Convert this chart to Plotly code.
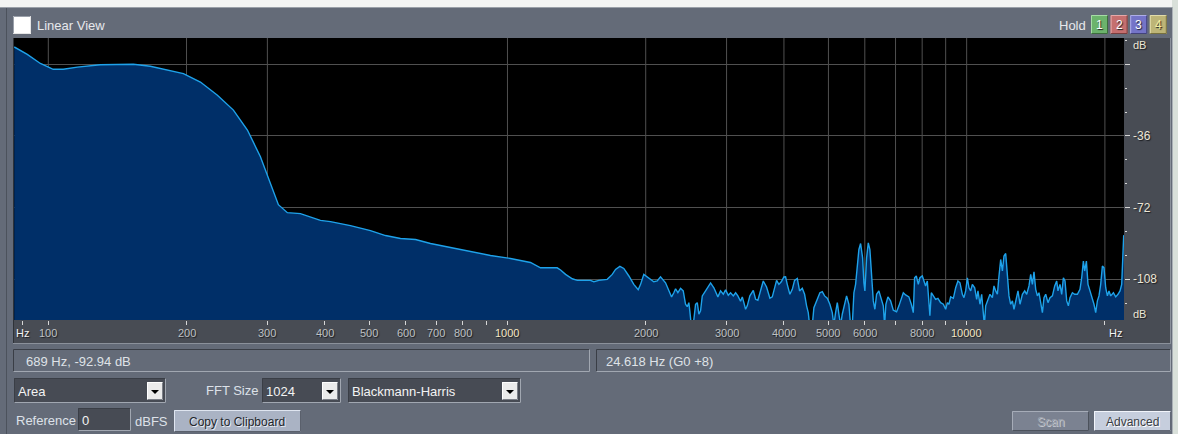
import math
import plotly.graph_objects as go

W, H = 1178, 434
FONT = "Liberation Sans, Arial, sans-serif"

# ---- spectrum (frequency in Hz, level in dB) ----
FREQ_HZ = [
    84.3, 90.0, 96.1, 102.5, 107.8, 115.7, 129.8, 153.2, 166.8, 181.6, 196.9, 214.4,
    233.5, 253.0, 271.4, 289.7, 304.6, 317.0, 331.6, 354.0, 391.4, 411.6, 454.9, 503.0,
    542.4, 584.8, 630.5, 679.7, 751.3, 830.7, 918.2, 1015, 1122,
    1180, 1283, 1305, 1338, 1384, 1419, 1516, 1542, 1581, 1649, 1691, 1719, 1757, 1792,
    1838, 1884, 1926, 1949, 1981, 2032, 2083, 2119, 2154, 2209, 2246, 2277, 2303, 2323,
    2350, 2382, 2414, 2442, 2463, 2483, 2495, 2513, 2538, 2568, 2590, 2611, 2633, 2656,
    2700, 2769, 2815, 2872, 2911, 2951, 2985, 3026, 3061, 3103, 3139, 3175, 3218,
    3246, 3272, 3300, 3328, 3372, 3430, 3470, 3510, 3558, 3606, 3666, 3728, 3773, 3816,
    3855, 3900, 3947, 3999, 4033, 4067, 4121, 4171, 4219, 4277, 4326, 4385, 4436, 4481,
    4519, 4549, 4611, 4648, 4711, 4790, 4848, 4904, 4971, 5036, 5097, 5138, 5182, 5227,
    5269, 5314, 5359, 5422, 5476, 5540, 5587, 5635, 5681, 5729, 5778, 5825, 5875, 5934,
    5973, 6003, 6054, 6106, 6155, 6208, 6261, 6311, 6365, 6439, 6517, 6583, 6626, 6669,
    6737, 6828, 6922, 7037, 7119, 7205, 7278, 7362, 7485, 7576, 7652, 7702, 7768, 7846,
    7910, 8005, 8070, 8139, 8209, 8275, 8316, 8375,
    8459, 8557, 8657, 8775, 8895, 9000, 9077, 9150, 9228, 9354, 9463, 9572, 9669, 9786,
    9865, 9950, 10035, 10116, 10203, 10290, 10410, 10514, 10583, 10690, 10781, 10873,
    10928, 11000, 11094, 11240, 11376, 11468, 11566, 11665, 11759, 11860, 11962, 12058,
    12161, 12265, 12364, 12470, 12577, 12678, 12786, 12935, 13065, 13223, 13377, 13512,
    13669, 13786, 13904, 14016, 14136, 14257, 14372, 14495, 14619, 14737, 14863, 15035,
    15187, 15371, 15549, 15706, 15808, 15968, 16104, 16242, 16373, 16513, 16654, 16788,
    16991, 17188, 17423, 17651, 17802, 17955, 18072, 18227, 18374, 18559, 18784, 18935,
    19097, 19260, 19416, 19582, 19750, 19909, 20079, 20251, 20414, 20589, 20870, 21112,
    21357, 21573, 21758, 21867, 21977, 22088,
]
LEVEL_DB = [
    8.7, 5.0, 0.4, -2.5, -2.5, -1.4, -0.2, 0.0, -1.0, -2.7, -4.7, -8.9,
    -15.5, -23.0, -33.0, -46.4, -59.5, -70.5, -74.5, -75.0, -78.4, -79.0, -81.0, -83.5,
    -86.0, -87.5, -88.0, -90.0, -92.0, -94.0, -96.0, -97.5, -99.5,
    -102.2, -102.2, -103.3, -105.5, -107.7, -108.5, -108.5, -109.2, -108.5, -108.0, -105.5, -103.0, -101.5, -102.5,
    -106.3, -110.5, -113.2, -110.5, -105.5, -107.2, -109.2, -108.8, -106.7, -109.7, -113.8, -116.8, -114.7, -112.7,
    -114.7, -112.5, -113.8, -120.5, -121.7, -119.7, -123.8, -131.0, -131.0, -120.5, -119.7, -125.5, -123.8, -116.3,
    -113.8, -109.8, -112.2, -116.8, -113.8, -115.5, -113.3, -116.0, -114.7, -116.3, -114.7, -116.3, -119.0,
    -116.8, -119.7, -123.0, -121.3, -116.3, -113.5, -118.0, -118.5, -113.0, -108.8, -111.8, -117.5, -116.8, -112.2,
    -108.5, -110.5, -109.2, -106.8, -106.7, -110.5, -115.5, -113.0, -108.5, -107.5, -113.8, -112.5, -115.5, -121.3,
    -124.7, -131.0, -131.0, -122.2, -118.8, -114.7, -114.2, -116.3, -117.5, -120.5, -124.7, -131.0, -124.7, -119.7,
    -125.5, -131.0, -125.5, -119.7, -116.3, -120.5, -131.0, -131.0, -114.7, -110.5, -102.2, -93.0, -90.0, -97.2,
    -109.7, -113.8, -97.2, -89.7, -93.0, -107.2, -118.8, -123.0, -115.5, -113.8, -118.0, -121.3, -131.0, -120.5,
    -116.8, -118.8, -123.5, -124.3, -121.3, -117.2, -114.7, -115.8, -116.8, -120.5, -124.7, -107.2, -106.3, -110.5,
    -107.2, -106.3, -108.8, -111.3, -108.8, -120.5, -126.3, -114.7,
    -116.3, -118.0, -117.5, -119.7, -120.5, -123.0, -119.7, -120.5, -116.8, -117.5, -112.2, -108.8, -109.7, -115.5,
    -117.2, -113.8, -107.2, -112.2, -113.8, -110.5, -112.2, -118.0, -113.8, -120.5, -115.5, -124.7,
    -131.0, -121.3, -119.2, -115.5, -117.2, -111.3, -113.8, -115.5, -106.3, -98.0, -103.8, -96.3,
    -95.0, -107.2, -116.3, -120.5, -118.8, -123.0, -118.8, -113.8, -120.5, -115.5, -113.8, -115.5,
    -111.3, -105.5, -110.5, -104.2, -113.0, -116.3, -114.7, -118.8, -124.7, -117.2, -115.5, -119.7,
    -117.2, -116.3, -111.3, -108.8, -113.8, -110.5, -115.5, -107.2, -108.8, -118.8, -121.3, -117.2,
    -114.7, -115.5, -115.5, -113.0, -107.2, -98.8, -103.8, -98.8, -110.5, -113.8, -117.2, -120.5,
    -124.7, -118.8, -116.3, -110.5, -101.3, -102.2, -112.2, -116.3, -113.8, -116.3, -114.7, -116.8,
    -115.5, -113.8, -110.5, -97.2, -85.8, -90.5,
]

# ---- axes ----
FREQ_RANGE_HZ = [84.2, 22010]
DB_RANGE = [-128.4, 13.2]
X_LABEL_HZ = [88, 100, 200, 300, 400, 500, 600, 700, 800, 1000,
              2000, 3000, 4000, 5000, 6000, 8000, 10000]
X_LABEL_TEXT = ["Hz", "100", "200", "300", "400", "500", "600", "700", "800", "1000",
                "2000", "3000", "4000", "5000", "6000", "8000", "10000"]
X_UNLABELED_TICK_HZ = [900, 7000, 9000, 20000]
GRID_HZ = [100, 200, 300, 1000, 2000, 3000, 4000, 5000, 6000, 7000, 8000, 9000, 10000, 20000]
DB_LABEL_VALUES = [-36, -72, -108]
DB_LABEL_TEXT = ["-36", "-72", "-108"]

PANEL = "#646b78"
STRIP = "#484c54"
WELL = "#474b54"
DARK_EDGE = "#3a3e46"
LIGHT_EDGE = "#a1a7b1"
GRID = "#505050"
EMBOSS = "1px 1px 1px #1b1d21"

shapes, notes = [], []


def X(p):
    return p / W


def Y(p):
    return 1 - p / H


def box(x0, y0, x1, y1, fill):
    shapes.append(dict(type="rect", xref="paper", yref="paper", x0=X(x0), x1=X(x1),
                       y0=Y(y1), y1=Y(y0), fillcolor=fill, line=dict(width=0), layer="below"))


def seg(x0, y0, x1, y1, color, width=1):
    shapes.append(dict(type="line", xref="paper", yref="paper", x0=X(x0), y0=Y(y0),
                       x1=X(x1), y1=Y(y1), line=dict(color=color, width=width), layer="below"))


def bevel(x0, y0, x1, y1, tl, br):
    seg(x0 + .5, y0 + .5, x1 - .5, y0 + .5, tl)
    seg(x0 + .5, y0 + .5, x0 + .5, y1 - .5, tl)
    seg(x0 + .5, y1 - .5, x1 - .5, y1 - .5, br)
    seg(x1 - .5, y0 + .5, x1 - .5, y1 - .5, br)


def label(x, y, s, size=13, color="#e2e5ea", anchor="left", shadow=None):
    f = dict(family=FONT, size=size, color=color)
    if shadow:
        f["shadow"] = shadow
    notes.append(dict(xref="paper", yref="paper", x=X(x), y=Y(y), text=s, showarrow=False,
                      xanchor=anchor, yanchor="middle", borderpad=0, borderwidth=0, font=f))


def arrow_button(x0, y0, x1, y1):
    box(x0, y0, x1, y1, "#ebebeb")
    bevel(x0, y0, x1, y1, "#ffffff", "#7c8088")
    cx, cy = (x0 + x1) / 2, (y0 + y1) / 2 + 1
    shapes.append(dict(type="path", xref="paper", yref="paper", layer="below",
                       path=f"M {X(cx - 4)},{Y(cy - 2)} L {X(cx + 4)},{Y(cy - 2)} L {X(cx)},{Y(cy + 2)} Z",
                       fillcolor="#000000", line=dict(width=0)))


def dropdown(x0, y0, x1, y1, text):
    box(x0, y0, x1, y1, WELL)
    bevel(x0, y0, x1, y1, DARK_EDGE, LIGHT_EDGE)
    arrow_button(x1 - 19, y0 + 4, x1 - 3, y1 - 3)
    label(x0 + 4, (y0 + y1) / 2 + 0.5, text, color="#f3f3f3")


def button(x0, y0, x1, y1, fill, text, tcolor, tshadow, light, dark):
    box(x0, y0, x1, y1, fill)
    bevel(x0, y0, x1, y1, light, dark)
    label((x0 + x1) / 2, (y0 + y1) / 2 + 0.5, text, size=12, color=tcolor, anchor="center", shadow=tshadow)


# ---- window frame ----
box(0, 0, W, 7, "#f3f4f3")
seg(0, 7.5, W, 7.5, "#9aa0a8")
box(1172, 0, W, H, "#d9e0da")
seg(1172.5, 7, 1172.5, H, "#aab0b6")
seg(6.5, 8, 6.5, H, "#4c525c")

# ---- top bar ----
box(13, 16, 31, 34, "#ffffff")
bevel(13, 16, 31, 34, "#9aa0aa", "#e6e6e6")
label(37, 25, "Linear View", color="#e6e8ec")
label(1086, 25, "Hold", color="#e6e8ec", anchor="right")
HOLD_COLORS = [("#6cb36c", "#a6dca6", "#3d6e3d", "#ffffff"),
               ("#c56f6f", "#e6a9a9", "#7a3e3e", "#ffffff"),
               ("#7474c8", "#aeaee8", "#43437c", "#ffffff"),
               ("#bdb577", "#e2dcaa", "#77713f", "#f6eea0")]
for i, (fill, light, dark, tcol) in enumerate(HOLD_COLORS):
    bx = 1091 + 19.6 * i
    button(bx, 15, bx + 17, 34, fill, str(i + 1), tcol, EMBOSS, light, dark)

# ---- axis strips around the spectrum ----
box(13, 320, 1125, 343, STRIP)
box(1124, 38, 1171, 343, STRIP)
seg(13, 343.5, 1171, 343.5, "#8b919b")
seg(1170.5, 38, 1170.5, 344, "#8b919b")
seg(13.5, 38, 13.5, 343, "#2e3238")

# ---- status fields ----
box(13, 349, 590, 372, PANEL)
bevel(13, 349, 590, 372, DARK_EDGE, LIGHT_EDGE)
label(26, 361, "689 Hz, -92.94 dB", color="#dfe2e7")
box(596, 349, 1171, 372, PANEL)
bevel(596, 349, 1171, 372, DARK_EDGE, LIGHT_EDGE)
label(606, 361, "24.618 Hz (G0 +8)", color="#dfe2e7")

# ---- controls ----
dropdown(14, 378, 166, 403, "Area")
label(206, 390, "FFT Size", color="#dde1e8")
dropdown(262, 378, 341, 403, "1024")
dropdown(348, 378, 521, 403, "Blackmann-Harris")

label(16, 420, "Reference", color="#dde1e8")
box(78, 408, 131, 431, WELL)
bevel(78, 408, 131, 431, DARK_EDGE, LIGHT_EDGE)
label(82, 420, "0", color="#f3f3f3")
label(135, 421, "dBFS", color="#dde1e8")
button(174, 410, 301, 432, "#aab3c4", "Copy to Clipboard", "#23262b",
       "1px 1px 0px #e8ecf4", "#dfe5f0", "#5a606c")
button(1012, 411, 1089, 431, "#7b8291", "Scan", "#9ba1ab",
       "1px 1px 0px #c4c8d0", "#a6acb8", "#4c525c")
button(1094, 411, 1171, 431, "#c6cedd", "Advanced", "#3a3d44",
       "1px 1px 0px #ffffff", "#f2f5fb", "#626876")

# ---- axis labels ----
for f, t in zip(X_LABEL_HZ, X_LABEL_TEXT):
    if t == "Hz":
        col = "#f4f4f4"
    elif t in ("1000", "10000"):
        col = "#f3e6c4"
    else:
        col = "#bfc0c2"
    notes.append(dict(xref="x", yref="paper", x=math.log10(f), y=Y(332.5), text=t,
                      showarrow=False, xanchor="center", yanchor="middle", borderpad=0,
                      font=dict(family=FONT, size=11, color=col, shadow=EMBOSS)))
label(1115, 332.5, "Hz", size=11, color="#f4f4f4", anchor="center", shadow=EMBOSS)

for v, t in zip(DB_LABEL_VALUES, DB_LABEL_TEXT):
    notes.append(dict(xref="paper", yref="y", x=X(1132), y=v, text=t, showarrow=False,
                      xanchor="left", yanchor="middle", borderpad=0,
                      font=dict(family=FONT, size=12, color="#ece6d6", shadow=EMBOSS)))
label(1133, 45, "dB", size=11, color="#ece6d6", shadow=EMBOSS)
label(1133, 314, "dB", size=11, color="#ece6d6", shadow=EMBOSS)

# ---- traces ----
fig = go.Figure()

# vertical frequency grid, drawn first so the filled spectrum covers it
grid_x, grid_y = [], []
for f in GRID_HZ:
    grid_x += [f, f, None]
    grid_y += [DB_RANGE[0] - 5, DB_RANGE[1] + 5, None]
fig.add_trace(go.Scatter(x=grid_x, y=grid_y, mode="lines", line=dict(color=GRID, width=1),
                         hoverinfo="skip", showlegend=False))

# floor for the area fill, then the spectrum itself
fig.add_trace(go.Scatter(x=FREQ_HZ, y=[-200] * len(FREQ_HZ), mode="lines",
                         line=dict(width=0, color="rgba(0,0,0,0)"), hoverinfo="skip",
                         showlegend=False))
fig.add_trace(go.Scatter(x=FREQ_HZ, y=LEVEL_DB, mode="lines", fill="tonexty",
                         fillcolor="#002f68", line=dict(color="#1ea2ea", width=1.4),
                         showlegend=False, hoverinfo="skip"))

fig.update_layout(
    width=W, height=H, autosize=False,
    margin=dict(l=0, r=0, t=0, b=0, pad=0),
    paper_bgcolor=PANEL, plot_bgcolor="#000000",
    shapes=shapes, annotations=notes, showlegend=False,
    xaxis=dict(type="log", domain=[X(14), X(1124)],
               range=[math.log10(FREQ_RANGE_HZ[0]), math.log10(FREQ_RANGE_HZ[1])],
               tickvals=X_LABEL_HZ + X_UNLABELED_TICK_HZ, showticklabels=False,
               ticks="outside", ticklen=4, tickwidth=1, tickcolor="#d6d6d6",
               showgrid=False, zeroline=False, showline=False, fixedrange=True),
    yaxis=dict(domain=[Y(320), Y(38)], range=DB_RANGE, side="right",
               tick0=0, dtick=36, ticks="outside", ticklen=5, tickwidth=1,
               tickcolor="#d6d6d6", showticklabels=False,
               showgrid=True, gridcolor=GRID, gridwidth=1,
               zeroline=False, showline=False, fixedrange=True,
               minor=dict(tick0=0, dtick=12, ticks="outside", ticklen=2,
                          tickcolor="#d6d6d6", showgrid=False)),
)

fig.write_html("out.html", config={"displayModeBar": False})
